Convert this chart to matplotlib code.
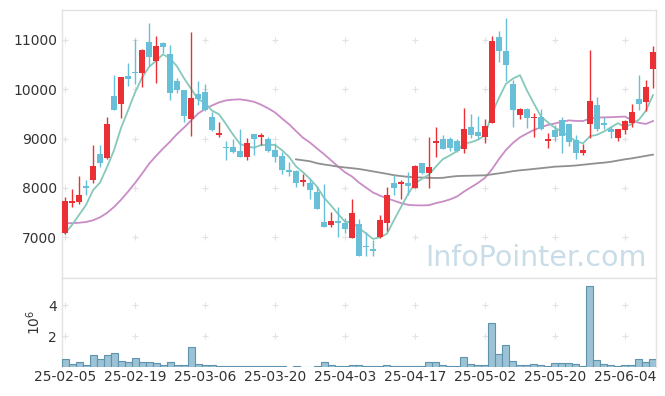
import numpy as np
import pandas as pd
import matplotlib
matplotlib.use("Agg")
import matplotlib.pyplot as plt

# ---------------- data ----------------
tick_labels = ["25-02-05", "25-02-19", "25-03-06", "25-03-20", "25-04-03",
               "25-04-17", "25-05-02", "25-05-20", "25-06-04"]

opens = [7080, 7700, 7720, 8040, 8170, 8680, 8610, 9860, 9695, 10270,
         10350, 10340, 10950, 10580, 10945, 10715, 10170, 9985, 9390, 9905,
         9945, 9445, 9075, 8830, 8830, 8750, 8635, 9085, 9025, 8990,
         8770, 8655, 8365, 8350, 8125, 8105, 7925, 7315, 7250, 7330,
         7295, 6990, 7270, 6815, 6760, 7010, 7280, 8100, 8080, 8100,
         7990, 8500, 8310, 8920, 8985, 8990, 8950, 8785, 9230, 9130,
         9040, 9325, 11070, 10775, 10100, 9480, 9600, 9425, 9430, 8950,
         9175, 9380, 9290, 8970, 8715, 9290, 9680, 9310, 9195, 9005,
         9175, 9310, 9805, 9750, 10410]
highs = [7820, 7970, 8240, 8170, 8880, 8880, 9445, 10290, 10250, 10530,
         11030, 10810, 11350, 11080, 10950, 10900, 10220, 9990, 11155, 10175,
         10100, 9545, 9330, 8960, 8990, 9190, 9005, 9090, 9120, 9040,
         8905, 8735, 8535, 8360, 8280, 8175, 8045, 8080, 7505, 7605,
         7385, 7770, 7365, 7115, 6945, 7450, 8025, 8255, 8160, 8330,
         8460, 8510, 9040, 9230, 9075, 9040, 8985, 9630, 9495, 9465,
         9390, 11080, 11185, 11440, 10190, 9615, 9630, 9515, 9595, 9120,
         9275, 9445, 9295, 9075, 8890, 10800, 9850, 9430, 9255, 9200,
         9380, 9695, 10290, 10190, 10880]
lows = [7070, 7610, 7670, 7860, 8090, 8430, 8580, 9570, 9410, 10070,
        10110, 10040, 10480, 10135, 10730, 9780, 9920, 9345, 9055, 9680,
        9565, 9155, 9040, 8565, 8715, 8620, 8565, 8670, 8870, 8735,
        8535, 8280, 8240, 8025, 8040, 7770, 7570, 7200, 7200, 7000,
        7080, 6990, 6610, 6620, 6620, 6980, 7135, 7855, 7775, 7855,
        7990, 8280, 7990, 8620, 8785, 8750, 8735, 8715, 9005, 8985,
        8905, 9320, 10560, 10170, 9240, 9390, 9210, 9040, 9175, 8805,
        8960, 8715, 8850, 8580, 8670, 9005, 9155, 9190, 9005, 8950,
        9085, 9240, 9580, 9560, 10020]
closes = [7740, 7735, 7860, 7990, 8445, 8510, 9300, 9580, 10240, 10215,
          10340, 10800, 10660, 10880, 10865, 9930, 9985, 9465, 9815, 9795,
          9580, 9175, 9105, 8815, 8735, 8635, 8905, 8990, 9075, 8755,
          8635, 8365, 8325, 8105, 8160, 7960, 7575, 7200, 7330, 7295,
          7175, 7500, 6620, 6800, 6730, 7350, 7855, 8005, 8115, 8045,
          8445, 8310, 8430, 8950, 8790, 8815, 8750, 9195, 9075, 9055,
          9255, 10980, 10775, 10495, 9580, 9600, 9425, 9440, 9190, 8985,
          9040, 9055, 8940, 8715, 8770, 9765, 9195, 9275, 9140, 9195,
          9355, 9535, 9700, 10055, 10765]
# closes before the displayed window (needed for the moving averages)
prior_closes = [7675, 7697, 7692, 7745, 7312, 7496, 7180, 7343, 6916, 6840,
                6997, 6682, 7678, 7865, 7132, 6895, 6842, 6977, 6945]
# long moving average (grey), shown from the 34th candle on
ma_long = [8580, 8560, 8540, 8500, 8475, 8455, 8431, 8415, 8400, 8384,
           8360, 8335, 8310, 8285, 8258, 8240, 8225, 8215, 8210, 8205,
           8201, 8205, 8225, 8240, 8245, 8248, 8252, 8255, 8275, 8295,
           8315, 8340, 8357, 8370, 8385, 8400, 8415, 8431, 8438, 8445,
           8455, 8470, 8485, 8500, 8512, 8530, 8555, 8580, 8600, 8625,
           8650, 8675]
volumes = [0.52, 0.19, 0.32, 0.13, 0.77, 0.52, 0.77, 0.90, 0.41, 0.32,
           0.58, 0.32, 0.32, 0.26, 0.13, 0.32, 0.13, 0.13, 1.29, 0.19,
           0.13, 0.13, 0.06, 0.06, 0.06, 0.06, 0.06, 0.06, 0.06, 0.06,
           0.06, 0.06, 0.01, 0.06, 0.01, 0.01, 0.06, 0.32, 0.13, 0.05,
           0.05, 0.13, 0.13, 0.05, 0.05, 0.05, 0.13, 0.05, 0.05, 0.05,
           0.05, 0.05, 0.32, 0.32, 0.13, 0.05, 0.05, 0.64, 0.19, 0.13,
           0.13, 2.84, 0.86, 1.42, 0.41, 0.13, 0.13, 0.19, 0.13, 0.05,
           0.26, 0.26, 0.26, 0.19, 0.05, 5.24, 0.45, 0.19, 0.13, 0.05,
           0.13, 0.13, 0.52, 0.32, 0.52]

# ---------------- figure ----------------
UP = "#ea2f35"
DOWN = "#67bfd8"
MA5_C = "#86c9bb"
MA20_C = "#c98cc6"
MAL_C = "#909090"
GRID_C = "#e2e2e2"
SPINE_C = "#e3e3e3"
TXT_C = "#333333"

plt.rcParams["font.family"] = ["DejaVu Sans"]

fig = plt.figure(figsize=(6.65, 3.96), dpi=100)
ax = fig.add_axes([62 / 665, 1 - 278 / 396, 594 / 665, 268 / 396])
axv = fig.add_axes([62 / 665, 1 - 367 / 396, 594 / 665, 89 / 396], sharex=ax)

n = len(closes)
x = np.arange(n)
o = np.array(opens, float)
h = np.array(highs, float)
l = np.array(lows, float)
c = np.array(closes, float)

allc = pd.Series(list(prior_closes) + list(closes), dtype=float)
ma5 = allc.rolling(5).mean().values[len(prior_closes):]
ma20 = allc.rolling(20).mean().values[len(prior_closes):]
xl = np.arange(n - len(ma_long), n)

# moving averages
ax.plot(x, ma20, color=MA20_C, lw=1.3, zorder=2)
ax.plot(xl, ma_long, color=MAL_C, lw=1.3, zorder=2)
ax.plot(x, ma5, color=MA5_C, lw=1.3, zorder=2)

# candles
up = c >= o
cols = np.where(up, UP, DOWN)
ax.vlines(x, l, h, colors=cols, lw=1.0, zorder=3)
body_bot = np.minimum(o, c)
body_h = np.maximum(np.abs(c - o), 18)
ax.bar(x, body_h, bottom=body_bot, width=0.72, color=cols, lw=0, zorder=4)

# volume
axv.bar(x, volumes, width=1.0, color="#9cc3d5", edgecolor="#5f93ad", lw=0.8, zorder=3)

# axes styling
ticks = np.arange(0, 81, 10)
for a in (ax, axv):
    a.set_xlim(-0.43, 84.43)
    for s in a.spines.values():
        s.set_color(SPINE_C)
        s.set_linewidth(1.0)
    a.tick_params(length=0, colors=TXT_C, labelsize=10)
axv.spines["bottom"].set_visible(False)

ax.set_ylim(6173, 11608)
yt = [7000, 8000, 9000, 10000, 11000]
ax.set_yticks(yt)
ax.set_yticklabels([str(v) for v in yt])
ax.tick_params(axis="x", labelbottom=False)
axv.set_ylim(0, 5.76)
axv.set_yticks([2, 4])
axv.set_yticklabels(["2", "4"])
axv.set_xticks(ticks)
axv.set_xticklabels(tick_labels)
axv.tick_params(axis="x", pad=2)
axv.set_ylabel(r"$10^6$", color=TXT_C, fontsize=10, labelpad=4)

# plus-shaped grid marks
gx, gy = np.meshgrid(ticks, yt)
ax.scatter(gx.ravel(), gy.ravel(), marker="+", s=20, color=GRID_C, lw=0.8, zorder=1)
gx2, gy2 = np.meshgrid(ticks, [2, 4])
axv.scatter(gx2.ravel(), gy2.ravel(), marker="+", s=20, color=GRID_C, lw=0.8, zorder=1)

# watermark
ax.text(0.985, 0.022, "InfoPointer.com", transform=ax.transAxes, ha="right", va="bottom",
        fontsize=20.5, color="#c9dde8", zorder=0)

fig.savefig("out.png", dpi=100)
